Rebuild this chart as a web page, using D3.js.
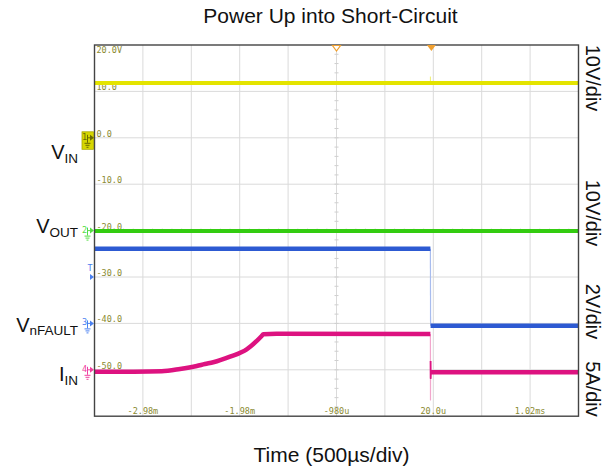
<!DOCTYPE html>
<html>
<head>
<meta charset="utf-8">
<script src="https://cdn.jsdelivr.net/npm/d3@7"></script>
<style>
  html, body { margin: 0; padding: 0; background: #fff; }
  svg { display: block; }
</style>
</head>
<body>
<svg id="chart" width="614" height="472"></svg>
<script>
// ---------- data ----------
const title = "Power Up into Short-Circuit";
const xTitle = "Time (500µs/div)";
const xTickTimes = [-2980, -1980, -980, 20, 1020];          // µs
const xTickLabels = ["-2.98m", "-1.98m", "-980u", "20.0u", "1.02ms"];
const yTickLabels = ["20.0V", "10.0", "0.0", "-10.0", "-20.0", "-30.0", "-40.0", "-50.0"];
const scaleLabels = ["10V/div", "10V/div", "2V/div", "5A/div"];

// VIN (V)
const vinTime   = [-3480, 1520];
const vinValues = [11.8, 11.8];
const vinSpikeTime   = [-10, -10];
const vinSpikeValues = [11.8, 13.2];
// VOUT (V)
const voutTime   = [-3480, 1520];
const voutValues = [-0.1, -0.1];
// VnFAULT (V)
const vfltTimeBefore   = [-3480, -10];
const vfltValuesBefore = [3.22, 3.22];
const vfltTimeEdge     = [-10, -8];
const vfltValuesEdge   = [3.22, -0.1];
const vfltTimeAfter    = [-8, 1520];
const vfltValuesAfter  = [-0.1, -0.1];
// IIN (A)
const iinTimeBefore   = [-3480, -2786, -2597, -2424, -2340, -2253, -2080, -1908, -1753, -1736, -1600, -10];
const iinValuesBefore = [-0.22, -0.15, 0.09, 0.41, 0.62, 0.81, 1.41, 2.21, 3.64, 3.83, 3.88, 3.85];
const iinTimeEdge     = [-10, -9, -8];
const iinValuesEdge   = [3.85, -3.25, 0.95];
const iinTimeSpike    = [-8, -7, -5];
const iinValuesSpike  = [0.95, -0.9, -0.27];
const iinTimeAfter    = [-5, 1520];
const iinValuesAfter  = [-0.27, -0.27];

// ---------- layout ----------
const L = 94.5, R = 578.5, T = 45, B = 416.2;
const font = "'Liberation Sans', Arial, Helvetica, sans-serif";
const mono = "'DejaVu Sans Mono', monospace";
const olive = "#8a8a30";

const svg = d3.select("#chart");
const x = d3.scaleLinear().domain([-3480, 1520]).range([L, R]);
const yDiv = d3.scaleLinear().domain([0, 8]).range([T, B]);

const channels = {
  vin:  { groundDiv: 2, perDiv: 10, color: "#e4e400", marker: "#d6d600", edge: "#eeee70" },
  vout: { groundDiv: 4, perDiv: 10, color: "#33cc10", marker: "#55dd44" },
  vflt: { groundDiv: 6, perDiv: 2,  color: "#2d5ad2", marker: "#4a80f0", edge: "#a8bcee" },
  iin:  { groundDiv: 7, perDiv: 5,  color: "#dd1280", marker: "#f040a0", edge: "#f2a6cc" }
};
function yOf(ch) { return v => yDiv(ch.groundDiv - v / ch.perDiv); }

// ---------- grid ----------
const grid = svg.append("g");
const vLines = d3.range(-2980, 1500, 500);
grid.selectAll("line.v").data(vLines).join("line")
  .attr("x1", d => x(d)).attr("x2", d => x(d)).attr("y1", T).attr("y2", B)
  .attr("stroke", "#dadada").attr("stroke-width", 1);
grid.selectAll("line.h").data(d3.range(1, 8)).join("line")
  .attr("x1", L).attr("x2", R).attr("y1", d => yDiv(d)).attr("y2", d => yDiv(d))
  .attr("stroke", "#dadada").attr("stroke-width", 1);

// minor ticks on center axes
const cx = x(-980), cy = yDiv(4);
grid.selectAll("line.mty").data(d3.range(0.2, 8, 0.2)).join("line")
  .attr("x1", cx - 2).attr("x2", cx + 2).attr("y1", d => yDiv(d)).attr("y2", d => yDiv(d))
  .attr("stroke", "#cfcfcf").attr("stroke-width", 1);
grid.selectAll("line.mtx").data(d3.range(-3380, 1520, 100)).join("line")
  .attr("y1", cy - 2).attr("y2", cy + 2).attr("x1", d => x(d)).attr("x2", d => x(d))
  .attr("stroke", "#cfcfcf").attr("stroke-width", 1);

// ---------- tick labels ----------
svg.append("g").selectAll("text").data(yTickLabels).join("text")
  .attr("x", L + 2)
  .attr("y", (d, i) => i === 0 ? yDiv(i) + 8 : yDiv(i) - 1)
  .attr("font-family", mono).attr("font-size", 8.5).attr("fill", olive)
  .text(d => d);

svg.append("g").selectAll("text").data(xTickTimes).join("text")
  .attr("x", d => x(d)).attr("y", B - 2)
  .attr("text-anchor", "middle")
  .attr("font-family", mono).attr("font-size", 8.5).attr("fill", olive)
  .text((d, i) => xTickLabels[i]);

// ---------- traces ----------
const traces = svg.append("g");
function draw(times, values, ch, color, width, curve) {
  const gen = d3.line().x(d => x(d[0])).y(d => yOf(ch)(d[1])).curve(curve || d3.curveLinear);
  traces.append("path")
    .datum(d3.zip(times, values))
    .attr("d", gen)
    .attr("fill", "none").attr("stroke", color).attr("stroke-width", width)
    .attr("stroke-linejoin", "round");
}
draw(vinSpikeTime, vinSpikeValues, channels.vin, channels.vin.edge, 1);
draw(vinTime, vinValues, channels.vin, channels.vin.color, 4);
draw(voutTime, voutValues, channels.vout, channels.vout.color, 4);
draw(vfltTimeEdge, vfltValuesEdge, channels.vflt, channels.vflt.edge, 1.2);
draw(vfltTimeBefore, vfltValuesBefore, channels.vflt, channels.vflt.color, 4.5);
draw(vfltTimeAfter, vfltValuesAfter, channels.vflt, channels.vflt.color, 4.5);
draw(iinTimeEdge, iinValuesEdge, channels.iin, channels.iin.edge, 1.2);
draw(iinTimeBefore, iinValuesBefore, channels.iin, channels.iin.color, 4.5, d3.curveMonotoneX);
draw(iinTimeSpike, iinValuesSpike, channels.iin, channels.iin.color, 1.8);
draw(iinTimeAfter, iinValuesAfter, channels.iin, channels.iin.color, 4.5);

// ---------- frame ----------
svg.append("rect").attr("x", L).attr("y", T).attr("width", R - L).attr("height", B - T)
  .attr("fill", "none").attr("stroke", "#444").attr("stroke-width", 1.4);

// trigger markers
const orange = "#f0a030";
svg.append("path")
  .attr("d", `M${x(-980) - 4},${T + 0.5} L${x(-980) + 4},${T + 0.5} L${x(-980)},${T + 6} Z`)
  .attr("fill", "#fff").attr("stroke", orange).attr("stroke-width", 1.2);
svg.append("path")
  .attr("d", `M${x(0) - 4.5},${T} L${x(0) + 4.5},${T} L${x(0)},${T + 6} Z`)
  .attr("fill", orange);

// ---------- channel markers ----------
function marker(ch, digit, boxed) {
  const g = svg.append("g");
  const yG = yDiv(ch.groundDiv);
  const col = boxed ? "#6a6a00" : ch.marker;
  if (boxed) {
    g.append("rect").attr("x", 82).attr("y", yG - 6).attr("width", 11.5).attr("height", 17.5)
      .attr("fill", ch.marker).attr("stroke", "#a8a800").attr("stroke-width", 0.8);
  }
  g.append("text").attr("x", 84.5).attr("y", yG + 2).attr("text-anchor", "middle")
    .attr("font-family", mono).attr("font-size", 8.5).attr("fill", col).text(digit);
  g.append("path").attr("d", `M87.5,${yG - 3} V${yG + 5} M87.5,${yG} H90`)
    .attr("stroke", col).attr("stroke-width", 1).attr("fill", "none");
  g.append("path").attr("d", `M90,${yG - 3} L94,${yG} L90,${yG + 3} Z`).attr("fill", col);
  g.append("path").attr("d", `M84.5,${yG + 5.5} H90.5 M85.5,${yG + 7.5} H89.5 M86.5,${yG + 9.5} H88.5`)
    .attr("stroke", col).attr("stroke-width", 1).attr("fill", "none");
}
marker(channels.vin, "1", true);
marker(channels.vout, "2", false);
marker(channels.vflt, "3", false);
marker(channels.iin, "4", false);

// trigger level marker (ch3)
const trigY = yDiv(5);
svg.append("text").attr("x", 90).attr("y", trigY - 6).attr("text-anchor", "middle")
  .attr("font-family", mono).attr("font-size", 8.5).attr("fill", channels.vflt.marker).text("T");
svg.append("path").attr("d", `M90,${trigY - 3} L94,${trigY} L90,${trigY + 3} Z`)
  .attr("fill", channels.vflt.marker);

// ---------- left labels ----------
const leftLabels = [
  { main: "V", sub: "IN", y: 159 },
  { main: "V", sub: "OUT", y: 233.3 },
  { main: "V", sub: "nFAULT", y: 331.7 },
  { main: "I", sub: "IN", y: 381 }
];
leftLabels.forEach(d => {
  const t = svg.append("text").attr("x", 78).attr("y", d.y).attr("text-anchor", "end")
    .attr("font-family", font).attr("font-size", 20).attr("fill", "#111");
  t.append("tspan").text(d.main);
  t.append("tspan").attr("font-size", 13.5).attr("dy", 3.5).text(d.sub);
});

// ---------- right labels ----------
const rightCenters = [78, 213, 311.5, 389];
svg.append("g").selectAll("text").data(scaleLabels).join("text")
  .attr("transform", (d, i) => `translate(586,${rightCenters[i]}) rotate(90)`)
  .attr("text-anchor", "middle")
  .attr("font-family", font).attr("font-size", 20).attr("fill", "#111")
  .text(d => d);

// ---------- titles ----------
svg.append("text").attr("x", 330.5).attr("y", 23).attr("text-anchor", "middle")
  .attr("font-family", font).attr("font-size", 21).attr("fill", "#111").text(title);
svg.append("text").attr("x", 331.5).attr("y", 462).attr("text-anchor", "middle")
  .attr("font-family", font).attr("font-size", 21).attr("fill", "#111").text(xTitle);
</script>
</body>
</html>
